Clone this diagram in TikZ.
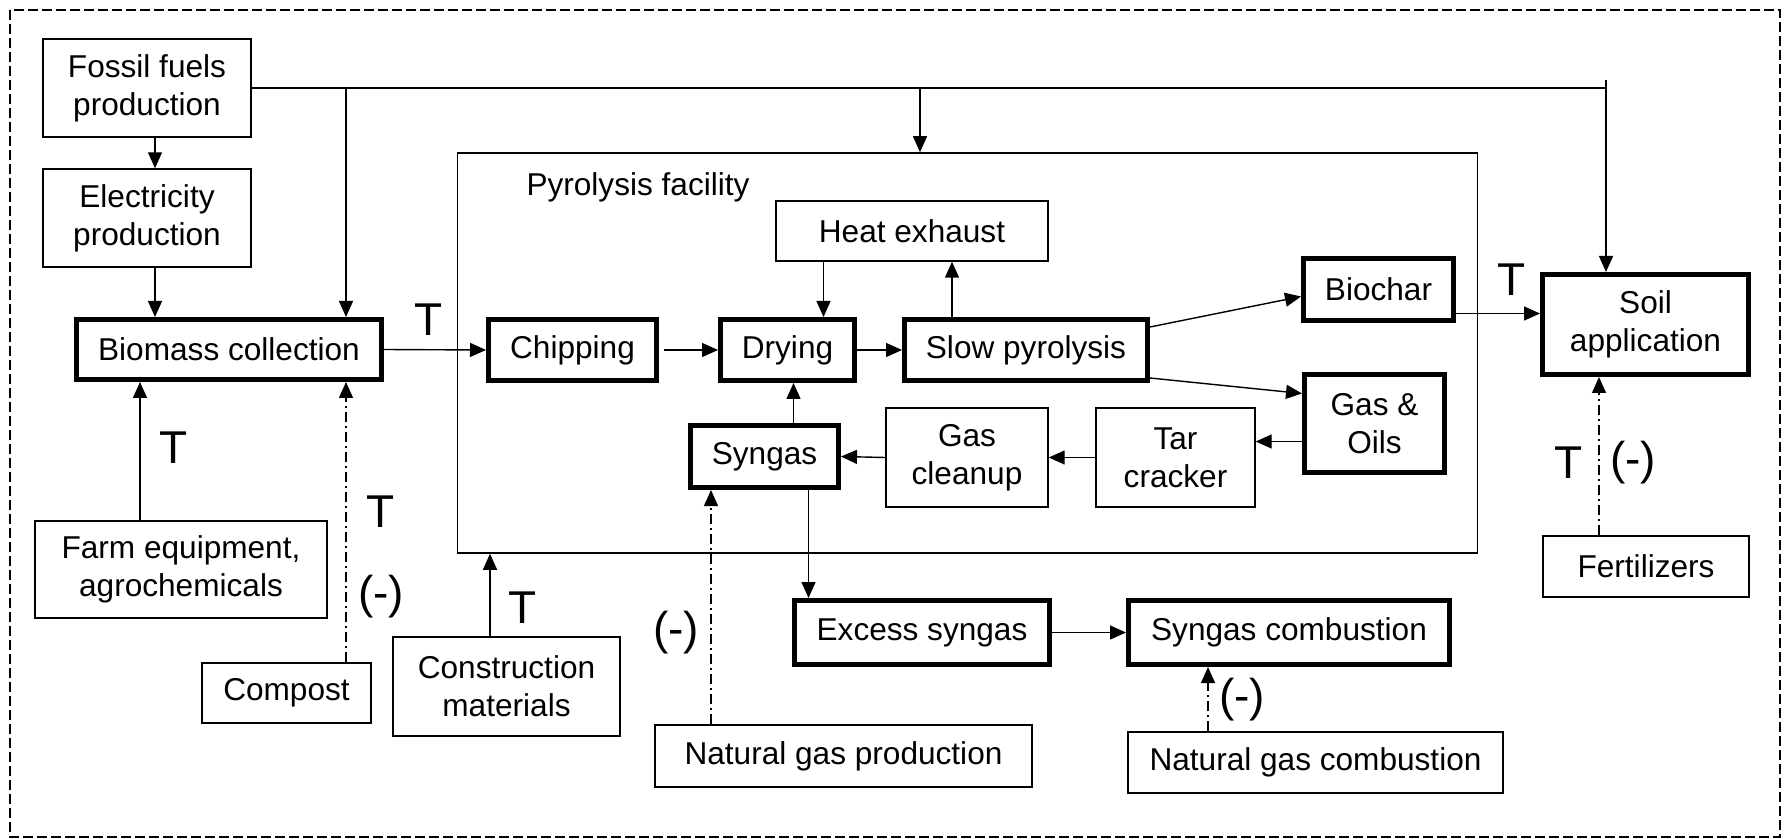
\documentclass[tikz,border=0pt]{standalone}
\usepackage{fontspec}
\setmainfont{Liberation Sans}
\usepackage{tikz}
\usetikzlibrary{arrows.meta}
\tikzstyle{boxThin} = [rectangle, draw=black, line width=0.7pt, inner sep=0pt, align=center]
\tikzstyle{boxThick} = [rectangle, draw=black, line width=2.5pt, inner sep=0pt, align=center]
\tikzstyle{flecha} = [line width=0.7pt, -{Triangle[length=8pt,width=7pt]}]
\tikzstyle{flechaDD} = [flecha, dash pattern=on 5pt off 2pt on 1pt off 2pt]
\tikzstyle{etiq} = [inner sep=0pt, font=\fontsize{23}{26}\selectfont]

\begin{document}
\begin{tikzpicture}[x=0.5pt, y=-0.5pt, font=\fontsize{15.8}{19}\selectfont]
    \useasboundingbox (0,0) rectangle (1787,839);
    \draw [line width=0.75pt, dash pattern=on 5pt off 2pt] (10,10) rectangle (1780,837);

    % pyrolysis facility
    \node (Pyro) [rectangle, draw=black, line width=0.75pt, minimum width=510pt, minimum height=200pt] at (967.5,353) {};
    \node (PyroLabel) at (638,187) {Pyrolysis facility};

    \node (Fossil) [boxThin, minimum width=104pt, minimum height=49pt] at (147,88) {Fossil fuels\\production};
    \node (Elec) [boxThin, minimum width=104pt, minimum height=49pt] at (147,218) {Electricity\\production};
    \node (Biomass) [boxThick, minimum width=152.5pt, minimum height=30pt] at (229,349.5) {Biomass collection};
    \node (Chip) [boxThick, minimum width=84pt, minimum height=30.5pt] at (572.5,350) {Chipping};
    \node (Dry) [boxThick, minimum width=67pt, minimum height=30.5pt] at (787.5,350) {Drying};
    \node (SlowPyr) [boxThick, minimum width=121.5pt, minimum height=30.5pt] at (1026,350) {Slow pyrolysis};
    \node (HeatEx) [boxThin, minimum width=136pt, minimum height=30pt] at (912,231) {Heat exhaust};
    \node (Biochar) [boxThick, minimum width=75pt, minimum height=31pt] at (1378.5,289.5) {Biochar};
    \node (GasOil) [boxThick, minimum width=70pt, minimum height=49pt] at (1374.5,423.5) {Gas \&\\Oils};
    \node (TarCrack) [boxThin, minimum width=79.5pt, minimum height=49.5pt] at (1175.5,457.5) {Tar\\cracker};
    \node (GasClean) [boxThin, minimum width=81pt, minimum height=49.5pt] at (967,457.5) {Gas\\cleanup};
    \node (Syngas) [boxThick, minimum width=74pt, minimum height=31pt] at (764.5,456.5) {Syngas};
    \node (ExSyngas) [boxThick, minimum width=127.5pt, minimum height=32pt] at (922,632.5) {Excess syngas};
    \node (SynComb) [boxThick, minimum width=160.5pt, minimum height=32pt] at (1289,632.5) {Syngas combustion};
    \node (Soil) [boxThick, minimum width=103pt, minimum height=50pt] at (1645.5,324.5) {Soil\\application};
    \node (Fert) [boxThin, minimum width=103pt, minimum height=30.5pt] at (1646,566.5) {Fertilizers};
    \node (Farm) [boxThin, minimum width=146pt, minimum height=48.5pt] at (181,569.5) {Farm equipment,\\agrochemicals};
    \node (Compost) [boxThin, minimum width=84.5pt, minimum height=30pt] at (286.5,693) {Compost};
    \node (Constr) [boxThin, minimum width=113.5pt, minimum height=49.5pt] at (506.5,686.5) {Construction\\materials};
    \node (NGProd) [boxThin, minimum width=188.5pt, minimum height=31pt] at (843.5,756) {Natural gas production};
    \node (NGComb) [boxThin, minimum width=187.5pt, minimum height=30.5pt] at (1315.5,762.5) {Natural gas combustion};

    % fossil fuels line
    \coordinate (Jbio) at (346,88);
    \coordinate (Jpyro) at (920,88);
    \coordinate (Jsoil) at (1606,88);
    \draw [line width=0.7pt] (Fossil.east) -- (Jsoil);
    \draw [flecha] ([yshift=4pt]Jsoil) -- (Jsoil |- Soil.north);
    \draw [flecha] (Jbio) -- (Jbio |- Biomass.north);
    \draw [flecha] (Jpyro) -- (Jpyro |- Pyro.north);
    \draw [flecha] ([xshift=4pt]Fossil.south) -- ([xshift=4pt]Elec.north);
    \draw [flecha] ([xshift=4pt]Elec.south) -- ([xshift=4pt]Elec.south |- Biomass.north);

    % main chain
    \draw [flecha] (Biomass.east) -- (Chip.west);
    \node (TBio) [etiq] at (429,320) {T};
    \draw [flecha] ([xshift=2.5pt]Chip.east) -- (Dry.west);
    \draw [flecha] (Dry.east) -- (SlowPyr.west);
    \draw [flecha] ([xshift=18pt]Dry.north |- HeatEx.south) -- ([xshift=18pt]Dry.north);
    \draw [flecha] ([xshift=-37pt]SlowPyr.north) -- ([xshift=-37pt]SlowPyr.north |- HeatEx.south);
    \draw [flecha] ([yshift=11.5pt]SlowPyr.east) -- ([yshift=-3.5pt]Biochar.west);
    \draw [flecha] ([yshift=-14pt]SlowPyr.east) -- ([yshift=15pt]GasOil.west);
    \draw [flecha] ([yshift=-12pt]Biochar.east) -- ([yshift=-12pt]Biochar.east -| Soil.west);
    \node (TSoil) [etiq] at (1512,280) {T};
    \draw [flecha] ([yshift=-9pt]GasOil.west) -- ([yshift=-9pt]GasOil.west -| TarCrack.east);
    \draw [flecha] (TarCrack.west) -- (GasClean.east);
    \draw [flecha] (GasClean.west) -- (Syngas.east);
    \draw [flecha] ([xshift=3pt]Dry.south |- Syngas.north) -- ([xshift=3pt]Dry.south);
    \draw [flecha] ([xshift=22pt]Syngas.south) -- ([xshift=22pt]Syngas.south |- ExSyngas.north);
    \draw [flecha] (ExSyngas.east) -- (SynComb.west);

    % inputs from below
    \draw [flecha] ([xshift=-20.5pt]Farm.north) -- ([xshift=-20.5pt]Farm.north |- Biomass.south);
    \node (TFarm) [etiq] at (174,448) {T};
    \draw [flechaDD] ([xshift=29.75pt]Compost.north) -- ([xshift=29.75pt]Compost.north |- Biomass.south);
    \node (TCompost) [etiq] at (381,512) {T};
    \node (MCompost) [etiq] at (381,597) {(-)};
    \draw [flecha] ([xshift=-8.25pt]Constr.north) -- ([xshift=-8.25pt]Constr.north |- Pyro.south);
    \node (TConstr) [etiq] at (523,608) {T};
    \draw [flechaDD] ([xshift=-66.25pt]NGProd.north) -- ([xshift=-66.25pt]NGProd.north |- Syngas.south);
    \node (MNGProd) [etiq] at (676,633) {(-)};
    \draw [flechaDD] ([xshift=-53.75pt]NGComb.north) -- ([xshift=-53.75pt]NGComb.north |- SynComb.south);
    \node (MNGComb) [etiq] at (1242,700) {(-)};
    \draw [flechaDD] ([xshift=-23.5pt]Fert.north) -- ([xshift=-23.5pt]Fert.north |- Soil.south);
    \node (TFert) [etiq] at (1569,463) {T};
    \node (MFert) [etiq] at (1633,463) {(-)};
\end{tikzpicture}
\end{document}
